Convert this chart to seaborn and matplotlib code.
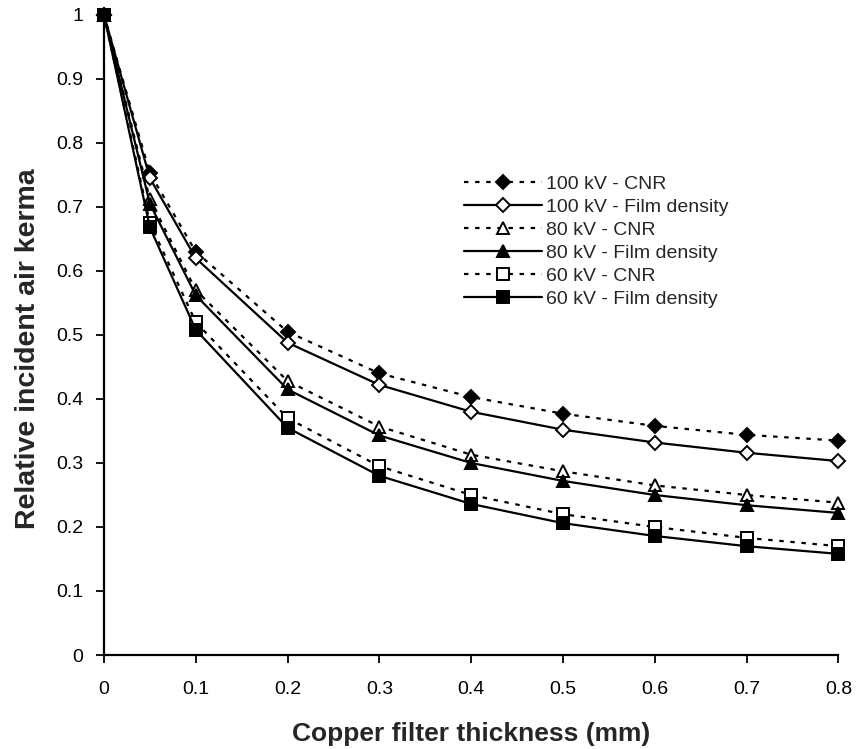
import matplotlib
matplotlib.use("Agg")
import matplotlib.pyplot as plt
import seaborn as sns
import pandas as pd

# copper thickness (mm)
thickness = [0, 0.05, 0.1, 0.2, 0.3, 0.4, 0.5, 0.6, 0.7, 0.8]

kv100_cnr = [1.0, 0.753, 0.630, 0.505, 0.440, 0.403, 0.377, 0.358, 0.344, 0.335]
kv100_film = [1.0, 0.745, 0.620, 0.488, 0.422, 0.380, 0.352, 0.332, 0.316, 0.303]
kv80_cnr = [1.0, 0.712, 0.570, 0.428, 0.357, 0.313, 0.287, 0.265, 0.250, 0.238]
kv80_film = [1.0, 0.705, 0.562, 0.415, 0.343, 0.300, 0.272, 0.250, 0.234, 0.222]
kv60_cnr = [1.0, 0.675, 0.520, 0.370, 0.295, 0.250, 0.220, 0.200, 0.183, 0.170]
kv60_film = [1.0, 0.668, 0.508, 0.355, 0.280, 0.236, 0.206, 0.186, 0.170, 0.158]

labels = ["100 kV - CNR", "100 kV - Film density", "80 kV - CNR",
          "80 kV - Film density", "60 kV - CNR", "60 kV - Film density"]
series = [kv100_cnr, kv100_film, kv80_cnr, kv80_film, kv60_cnr, kv60_film]

# marker, filled?, dotted?
styles = [("D", True, True), ("D", False, False), ("^", False, True),
          ("^", True, False), ("s", False, True), ("s", True, False)]
sizes = [7.5, 7.5, 8.5, 8.5, 8.5, 8.5]

sns.set_style("white")
plt.rcParams['font.family'] = ['Liberation Sans', 'DejaVu Sans']

fig = plt.figure(figsize=(8.58, 7.49), dpi=100)
ax = fig.add_axes([0.1212, 0.1255, 0.8560, 0.8545])

for i in range(len(series)):
    df = pd.DataFrame({"x": thickness, "y": series[i]})
    mk, filled, dotted = styles[i]
    ls = (0, (2, 3)) if dotted else "-"
    sns.lineplot(data=df, x="x", y="y", ax=ax, color="black", linestyle=ls,
                 linewidth=1.6, marker=mk, markersize=sizes[i],
                 markerfacecolor="black" if filled else "white",
                 markeredgecolor="black", markeredgewidth=1.4,
                 label=labels[i])

ax.set_xlim(0, 0.8)
ax.set_ylim(0, 1)
ax.set_xticks([0, 0.1, 0.2, 0.3, 0.4, 0.5, 0.6, 0.7, 0.8])
ax.set_xticklabels(["0", "0.1", "0.2", "0.3", "0.4", "0.5", "0.6", "0.7", "0.8"])
ax.set_yticks([0, 0.1, 0.2, 0.3, 0.4, 0.5, 0.6, 0.7, 0.8, 0.9, 1])
ax.set_yticklabels(["0", "0.1", "0.2", "0.3", "0.4", "0.5", "0.6", "0.7", "0.8", "0.9", "1"])
ax.tick_params(axis="both", direction="out", length=6, width=1.3, labelsize=14,
               bottom=True, left=True, colors="black")
ax.tick_params(axis="x", pad=13)
ax.tick_params(axis="y", pad=9)

for side in ["top", "right"]:
    ax.spines[side].set_visible(False)
for side in ["left", "bottom"]:
    ax.spines[side].set_color("black")
    ax.spines[side].set_linewidth(1.6)

ax.set_xlabel("Copper filter thickness (mm)", fontsize=19, fontweight="bold", labelpad=17)
ax.set_ylabel("Relative incident air kerma", fontsize=20.5, fontweight="bold")
ax.yaxis.set_label_coords(-0.086, 0.478)

ax.legend(loc="upper left", bbox_to_anchor=(0.477, 0.765), frameon=False, fontsize=14,
          handlelength=4.0, labelspacing=0.28, handletextpad=0.2, borderpad=0)

for line in ax.lines:
    line.set_clip_on(False)

fig.savefig("out.png", dpi=100)
